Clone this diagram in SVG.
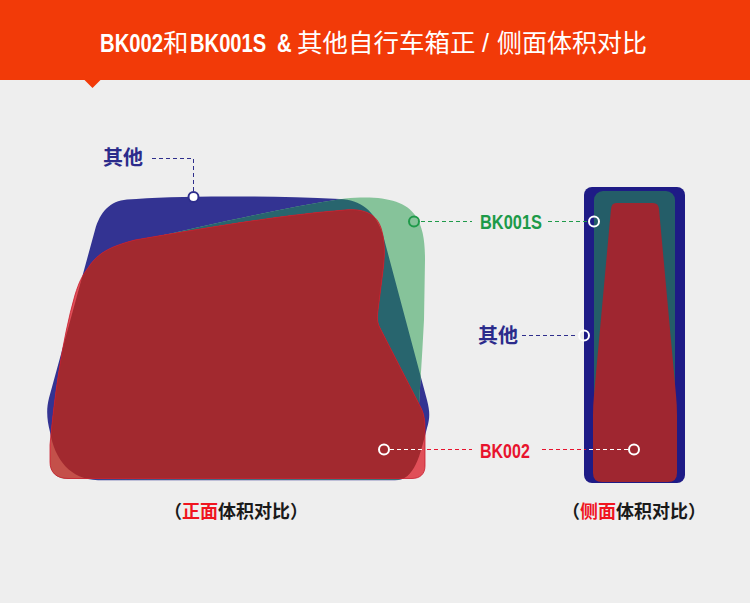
<svg xmlns="http://www.w3.org/2000/svg" width="750" height="603" viewBox="0 0 750 603">
<style>
.lat{font-family:"Liberation Sans",Arial,sans-serif;font-weight:700}
.cjk{font-family:"Noto Sans CJK SC","Noto Sans",sans-serif}
.lbl{font-family:"Liberation Sans","Noto Sans CJK SC",sans-serif;font-weight:700}
.dash{fill:none;stroke-width:1;stroke-dasharray:4 3}
.ring{fill:none;stroke:#fff;stroke-width:2}
</style>
<defs>
<path id="pBlue" d="M127,199.5 C170,196 250,195 340,199 C360,200 375,210 383,235 L427,400 C430,412 430,418 427,428 C420,455 415,480.3 395,480.3 L98,480.3 C70,479 55,460 50,432 C47,420 46,410 49,398 L95,230 C100,212 110,201 127,199.5 Z"/>
<path id="pGreen" d="M150,238 C210,225 280,208 345,198.5 C380,195 405,200 415,215 C423,227 425,240 425,260 L424,320 C422,360 419,400 417,440 C416,470 410,479.8 395,479.8 L68,479 C56,479 50,472 50,462 L51,440 C54,415 60,385 68,355 L84,298 C90,270 110,248 150,238 Z"/>
<path id="pRed" d="M88,268 C98,252 112,246 135,240 C200,229 280,215 345,210 C365,208 377,215 381,228 C385,240 385,255 383,270 L378,310 C377,318 377,322 380,328 L421,408 C424,414 425,420 425,430 L425,466 C425,474 420,478.5 412,478.5 L68,478.5 C56,478.5 50,472 50,462 L50,445 C54,400 62,340 75,295 C79,282 82,276 88,268 Z"/>
<clipPath id="cBlue"><use href="#pBlue"/></clipPath>
<clipPath id="cGreen"><use href="#pGreen"/></clipPath>
</defs>
<rect width="750" height="603" fill="#eeeeee"/>
<g id="header">
<rect x="0" y="0" width="750" height="80" fill="#f23a08"/>
<polygon points="84,79.5 101,79.5 92.5,88" fill="#f23a08"/>
<g fill="#ffffff">
<text class="lat" font-size="26" transform="translate(100,51.5) scale(0.78,1)">BK002</text>
<text class="cjk" font-size="25.5" x="163" y="51.5">和</text>
<text class="lat" font-size="26" transform="translate(190,51.5) scale(0.776,1)">BK001S</text>
<text class="lat" font-size="26" transform="translate(277,51.5) scale(0.78,1)">&amp;</text>
<text class="cjk" font-size="25.5" x="297" y="51.5">其他自行车箱正</text>
<text class="lat" font-size="25" x="482" y="51.5" style="font-weight:400">/</text>
<text class="cjk" font-size="25" x="497" y="51.5">侧面体积对比</text>
</g>
</g>
<g id="front-view">
<g id="front-other"><use href="#pBlue" fill="#333392"/></g>
<g id="front-bk001s">
<use href="#pGreen" fill="#86c39a"/>
<use href="#pGreen" fill="#28656e" clip-path="url(#cBlue)"/>
</g>
<g id="front-bk002">
<use href="#pRed" fill="#e04f58"/>
<use href="#pRed" fill="#c4504a" clip-path="url(#cGreen)"/>
<use href="#pRed" fill="#a2292f" clip-path="url(#cBlue)"/>
<use href="#pRed" fill="none" stroke="#c81d2d" stroke-width="0.8"/>
</g>
</g>
<g id="side-view">
<g id="side-other"><rect x="584" y="187" width="101" height="296" rx="8" fill="#1e1b86"/></g>
<g id="side-bk001s"><rect x="594" y="191" width="81" height="289" rx="9" fill="#245d68"/></g>
<g id="side-bk002"><path d="M616,203 L653,203 Q658.5,203 659,209 L676,395 Q677,405 677,415 L677,473 Q677,482 668,482 L602,482 Q593,482 593,473 L593,415 Q593,405 594,395 L611,209 Q611.5,203 616,203 Z" fill="#9f2630"/></g>
</g>
<g id="connectors">
<polyline class="dash" points="152,158.5 193.5,158.5 193.5,191" stroke="#2e2e8c"/>
<line class="dash" x1="421" y1="221.5" x2="472" y2="221.5" stroke="#1f9a4a"/>
<line class="dash" x1="548" y1="221.5" x2="589" y2="221.5" stroke="#1f9a4a"/>
<line class="dash" x1="522" y1="335.5" x2="579" y2="335.5" stroke="#2e2e8c"/>
<line class="dash" x1="390" y1="449.5" x2="424" y2="449.5" stroke="#ffffff"/>
<line class="dash" x1="427" y1="449.5" x2="472" y2="449.5" stroke="#e8132d"/>
<line class="dash" x1="542" y1="449.5" x2="586" y2="449.5" stroke="#e8132d"/>
<line class="dash" x1="589" y1="449.5" x2="628" y2="449.5" stroke="#ffffff"/>
<circle cx="193.5" cy="197" r="5" fill="#ffffff" stroke="#2e2e8c" stroke-width="2"/>
<circle cx="414" cy="221.5" r="5" fill="none" stroke="#1f9a4a" stroke-width="2"/>
<circle class="ring" cx="594" cy="221.5" r="5"/>
<circle class="ring" cx="584" cy="335.5" r="5"/>
<circle class="ring" cx="384" cy="449.5" r="5"/>
<circle class="ring" cx="634" cy="449.5" r="5"/>
</g>
<g id="labels">
<text class="lbl" x="103" y="165" font-size="20" fill="#2b2b8b">其他</text>
<text class="lat" font-size="20" fill="#1c9a48" transform="translate(480,229) scale(0.82,1)">BK001S</text>
<text class="lbl" x="478" y="343" font-size="20" fill="#2b2b8b">其他</text>
<text class="lat" font-size="20" fill="#e8132d" transform="translate(480,457.5) scale(0.8,1)">BK002</text>
<text class="lbl" x="236" y="518" font-size="18" fill="#1a1a1a" text-anchor="middle">（<tspan fill="#f0141e">正面</tspan>体积对比）</text>
<text class="lbl" x="634" y="518" font-size="18" fill="#1a1a1a" text-anchor="middle">（<tspan fill="#f0141e">侧面</tspan>体积对比）</text>
</g>
</svg>
